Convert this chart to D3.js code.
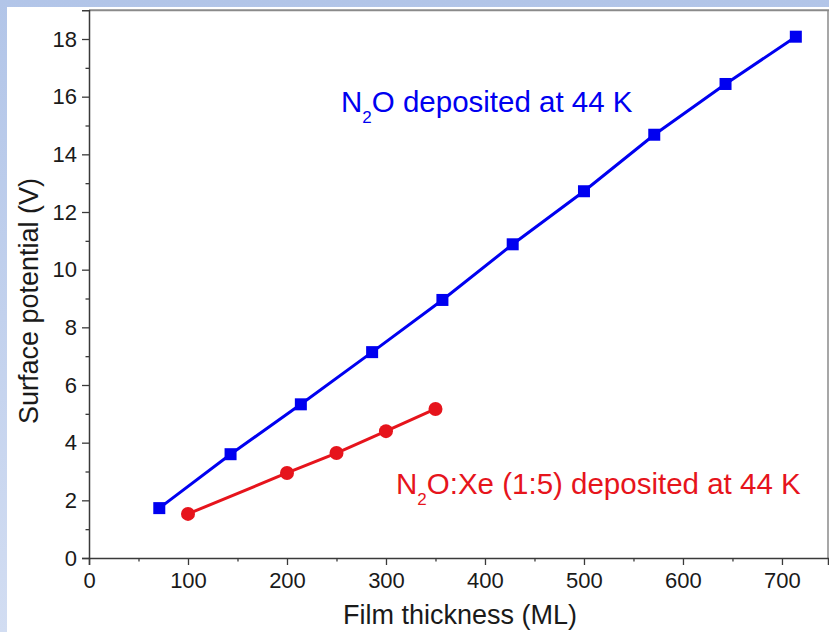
<!DOCTYPE html>
<html>
<head>
<meta charset="utf-8">
<script src="https://cdn.jsdelivr.net/npm/d3@7"></script>
<style>
  html, body { margin: 0; padding: 0; background: #fff; }
  svg { display: block; }
  text { font-family: "Liberation Sans", Arial, sans-serif; }
</style>
</head>
<body>
<svg id="chart" width="829" height="632"></svg>
<script>
// Surface potential of N2O films versus thickness
const pureThickness = [71, 143, 214, 286, 357, 428, 500, 571, 643, 714];
const pureVoltage   = [1.73, 3.60, 5.33, 7.14, 8.95, 10.88, 12.72, 14.68, 16.44, 18.08];

const mixThickness = [100, 200, 250, 300, 350];
const mixVoltage   = [1.53, 2.95, 3.64, 4.40, 5.17];

const xTicks = [0, 100, 200, 300, 400, 500, 600, 700];
const xMinorTicks = [50, 150, 250, 350, 450, 550, 650];
const yTicks = [0, 2, 4, 6, 8, 10, 12, 14, 16, 18];
const yMinorTicks = [1, 3, 5, 7, 9, 11, 13, 15, 17];

const BLUE = "#0000f0";
const RED = "#e6141c";

const svg = d3.select("#chart");

// slide-style frame: pale blue bands on top and left
const defs = svg.append("defs");
const grad = defs.append("linearGradient")
  .attr("id", "band").attr("x1", 0).attr("y1", 0).attr("x2", 0).attr("y2", 1);
grad.append("stop").attr("offset", "0%").attr("stop-color", "#b2c5e8");
grad.append("stop").attr("offset", "100%").attr("stop-color", "#d2ddf2");
svg.append("rect").attr("width", 829).attr("height", 632).attr("fill", "url(#band)");
svg.append("rect").attr("x", 7).attr("y", 7).attr("width", 822).attr("height", 625).attr("fill", "#fff");

const x = d3.scaleLinear().domain([0, 746.5]).range([89, 828]);
const y = d3.scaleLinear().domain([0, 19]).range([558, 558 - 19 * 28.833]);

// frame lines (top and right)
svg.append("line").attr("x1", 89).attr("x2", 829).attr("y1", y(19)).attr("y2", y(19))
  .attr("stroke", "#8a8a8a").attr("stroke-width", 2);
svg.append("line").attr("x1", 828).attr("x2", 828).attr("y1", y(19)).attr("y2", y(0))
  .attr("stroke", "#8a8a8a").attr("stroke-width", 1.5);

// axes
svg.append("g").attr("transform", `translate(0,${y(0)})`)
  .call(d3.axisBottom(x).tickValues(xTicks).tickSize(7).tickPadding(7).tickFormat(d3.format("d")));
svg.append("g").attr("transform", `translate(0,${y(0)})`)
  .call(d3.axisBottom(x).tickValues(xMinorTicks).tickSize(3.5).tickFormat(""))
  .call(g => g.select(".domain").remove());

svg.append("g").attr("transform", `translate(${x(0)},0)`)
  .call(d3.axisLeft(y).tickValues(yTicks).tickSize(7).tickPadding(5).tickFormat(d3.format("d")));
svg.append("g").attr("transform", `translate(${x(0)},0)`)
  .call(d3.axisLeft(y).tickValues(yMinorTicks).tickSize(3.5).tickFormat(""))
  .call(g => g.select(".domain").remove());

svg.selectAll(".domain").attr("stroke", "#3a3a3a").attr("stroke-width", 1.5);
svg.selectAll(".tick line").attr("stroke", "#3a3a3a").attr("stroke-width", 1.3);
svg.selectAll(".tick text")
  .attr("font-family", "Liberation Sans, Arial, sans-serif")
  .attr("font-size", 22).attr("fill", "#1a1a1a");

// axis titles
svg.append("text")
  .attr("x", 460).attr("y", 624)
  .attr("text-anchor", "middle")
  .attr("font-size", 27).attr("fill", "#1a1a1a")
  .text("Film thickness (ML)");
svg.append("text")
  .attr("transform", "translate(38,301) rotate(-90)")
  .attr("text-anchor", "middle")
  .attr("font-size", 27).attr("fill", "#1a1a1a")
  .text("Surface potential (V)");

// series
const line = d3.line().x(d => x(d[0])).y(d => y(d[1]));
const pure = d3.zip(pureThickness, pureVoltage);
const mix = d3.zip(mixThickness, mixVoltage);

svg.append("path").datum(pure).attr("d", line)
  .attr("fill", "none").attr("stroke", BLUE).attr("stroke-width", 3);
svg.selectAll(".sq").data(pure).enter().append("rect")
  .attr("class", "sq")
  .attr("x", d => x(d[0]) - 6).attr("y", d => y(d[1]) - 6)
  .attr("width", 12).attr("height", 12)
  .attr("fill", BLUE);

svg.append("path").datum(mix).attr("d", line)
  .attr("fill", "none").attr("stroke", RED).attr("stroke-width", 3);
svg.selectAll(".dot").data(mix).enter().append("circle")
  .attr("class", "dot")
  .attr("cx", d => x(d[0])).attr("cy", d => y(d[1]))
  .attr("r", 7)
  .attr("fill", RED);

// series annotations
function label(xPos, yPos, color, rest) {
  const t = svg.append("text").attr("x", xPos).attr("y", yPos)
    .attr("font-size", 29.5).attr("fill", color);
  t.append("tspan").text("N");
  t.append("tspan").attr("dy", 11).attr("font-size", 17).text("2");
  t.append("tspan").attr("dy", -11).text(rest);
}
label(341, 112, BLUE, "O deposited at 44 K");
label(396, 494, RED, "O:Xe (1:5) deposited at 44 K");
</script>
</body>
</html>
